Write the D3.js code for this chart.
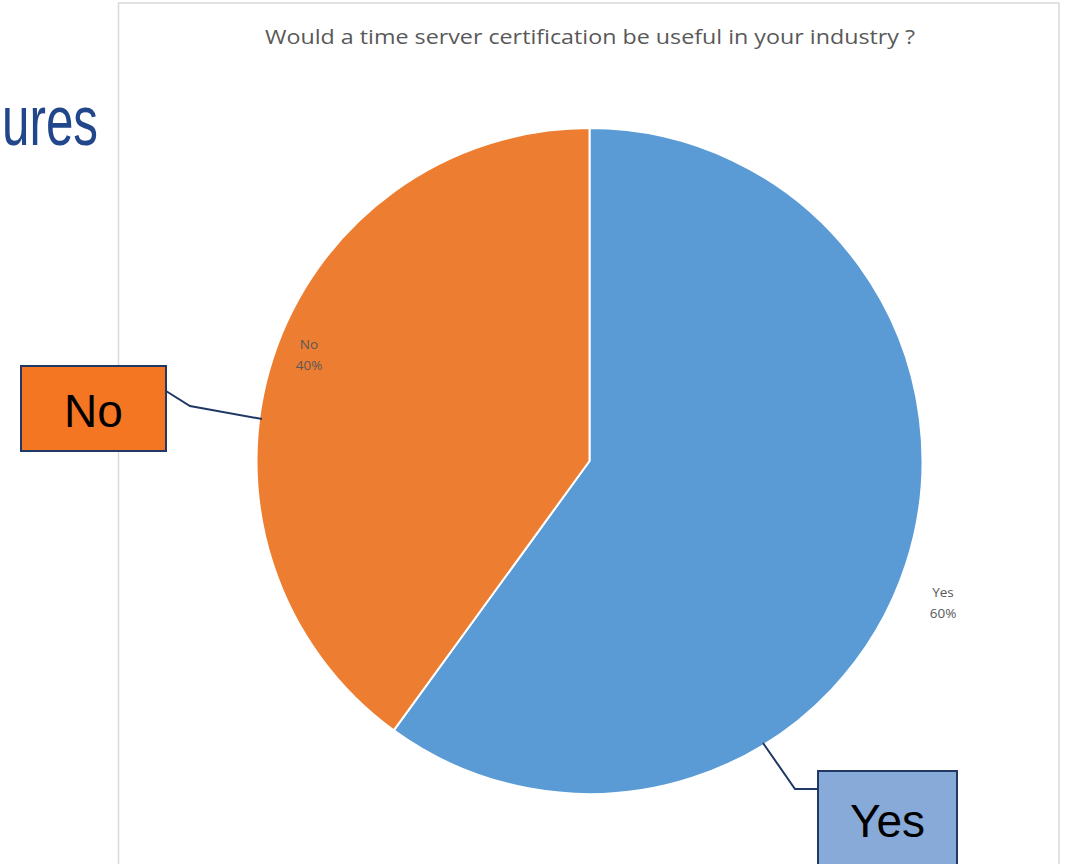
<!DOCTYPE html>
<html><head><meta charset="utf-8">
<script src="https://cdn.jsdelivr.net/npm/d3@7"></script>
<style>html,body{margin:0;padding:0;background:#fff;overflow:hidden}</style>
</head><body>
<script>
const categories = ["Yes", "No"];
const values = [60, 40];
const percentLabels = ["60%", "40%"];
const colors = ["#5b9bd5", "#ed7d31"];
const title = "Would a time server certification be useful in your industry ?";
const calloutLabels = ["Yes", "No"];

const W = 1069, H = 864;
const svg = d3.select("body").append("svg").attr("width", W).attr("height", H);

// slide fragment
svg.append("text").attr("x", 2).attr("y", 145)
  .attr("font-family", "Liberation Sans, Arial").attr("font-size", 70)
  .attr("textLength", 96).attr("lengthAdjust", "spacingAndGlyphs")
  .attr("fill", "#21468b").text("ures");

// chart frame
svg.append("rect").attr("x", 118.5).attr("y", 3).attr("width", 940.5).attr("height", 880)
  .attr("fill", "#fff").attr("stroke", "#d9d9d9").attr("stroke-width", 1.5);

svg.append("text").attr("x", 590).attr("y", 44).attr("text-anchor", "middle")
  .attr("font-family", "Open Sans, Noto Sans, sans-serif").attr("font-size", 19.5)
  .attr("textLength", 650).attr("lengthAdjust", "spacingAndGlyphs")
  .attr("fill", "#595959").text(title);

const cx = 589.5, cy = 461, R = 333;
const pie = d3.pie().sort(null).value(d => d.v);
const arcs = pie(categories.map((c, i) => ({c, v: values[i], i})));
const arc = d3.arc().innerRadius(0).outerRadius(R);
const g = svg.append("g").attr("transform", `translate(${cx},${cy})`);
g.selectAll("path").data(arcs).join("path")
  .attr("d", arc).attr("fill", d => colors[d.data.i])
  .attr("stroke", "#fff").attr("stroke-width", 2).attr("stroke-linejoin", "round");

// data labels
const labelPos = [[943, 597], [309, 349]];
arcs.forEach((a) => {
  const [lx, ly] = labelPos[a.data.i];
  const t = svg.append("text").attr("text-anchor", "middle")
    .attr("font-family", "Open Sans, Noto Sans, sans-serif").attr("font-size", 13.5)
    .attr("fill", "#595959");
  t.append("tspan").attr("x", lx).attr("y", ly).text(categories[a.data.i]);
  t.append("tspan").attr("x", lx).attr("y", ly + 21).text(percentLabels[a.data.i]);
});

// callouts
const navy = "#1f3864";
svg.append("polyline").attr("points", "166,391 190,406 262,419")
  .attr("fill", "none").attr("stroke", navy).attr("stroke-width", 2);
svg.append("rect").attr("x", 21).attr("y", 366).attr("width", 145).attr("height", 85)
  .attr("fill", "#f47623").attr("stroke", navy).attr("stroke-width", 2);
svg.append("text").attr("x", 93.5).attr("y", 427).attr("text-anchor", "middle")
  .attr("font-family", "Liberation Sans, Arial").attr("font-size", 46).attr("fill", "#000")
  .text(calloutLabels[1]);

svg.append("polyline").attr("points", "763,743 795,789 818,789")
  .attr("fill", "none").attr("stroke", navy).attr("stroke-width", 2);
svg.append("rect").attr("x", 818).attr("y", 771).attr("width", 139).attr("height", 110)
  .attr("fill", "#87aad8").attr("stroke", navy).attr("stroke-width", 2);
svg.append("text").attr("x", 887.5).attr("y", 837).attr("text-anchor", "middle")
  .attr("font-family", "Liberation Sans, Arial").attr("font-size", 46).attr("fill", "#000")
  .text(calloutLabels[0]);
</script>
</body></html>
